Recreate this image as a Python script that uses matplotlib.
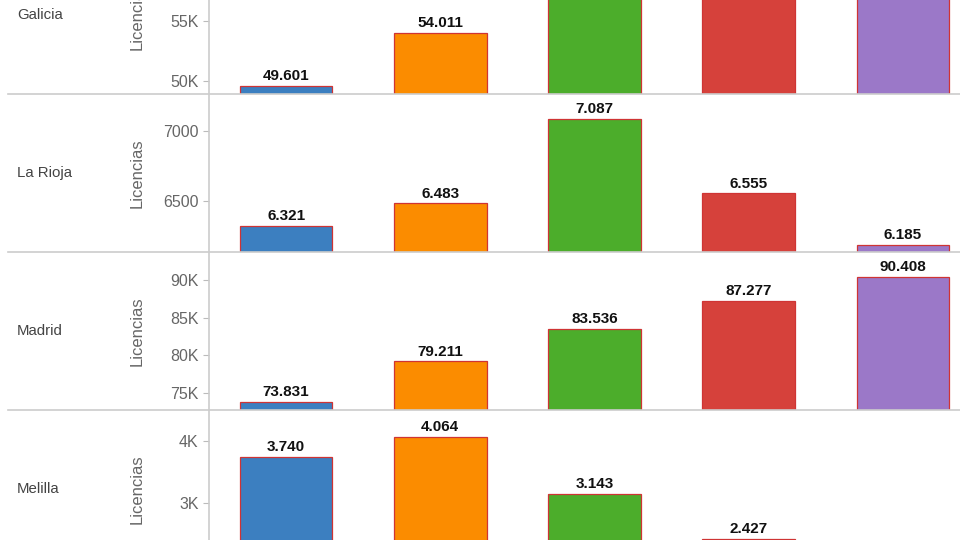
import matplotlib
matplotlib.use("Agg")
import matplotlib.pyplot as plt
from matplotlib.lines import Line2D
from matplotlib.ticker import FuncFormatter

plt.rcParams["font.family"] = ["Liberation Sans", "DejaVu Sans"]

# categories (the x labels sit below the visible crop)
CATEGORIES = ["2012", "2013", "2014", "2015", "2016"]
COLORS = ["#3c7fc0", "#fb8c00", "#4cad2b", "#d6413b", "#9b78c8"]
EDGE = "#cf3434"

REGIONS = ["Galicia", "La Rioja", "Madrid", "Melilla"]
# Galicia: last three bars run past the top of the crop (estimated)
GALICIA = [49601, 54011, 58200, 59100, 60300]
LA_RIOJA = [6321, 6483, 7087, 6555, 6185]
MADRID = [73831, 79211, 83536, 87277, 90408]
# Melilla: purple bar falls below the crop (estimated)
MELILLA = [3740, 4064, 3143, 2427, 2010]

VALUES = [GALICIA, LA_RIOJA, MADRID, MELILLA]
YLIMS = [(48917, 62083), (6136, 7264), (72744, 93716), (1952, 4500)]
YTICKS = [[50000, 55000], [6500, 7000], [75000, 80000, 85000, 90000],
          [3000, 4000]]
K_FORMAT = [True, False, True, True]

W, H = 960, 540
fig = plt.figure(figsize=(W / 100, H / 100), dpi=100)

# panel geometry in pixels (top of each row, row height)
row_tops = [-64, 94, 252, 410]
row_h = 158
ax_left, ax_right = 209, 980


def fmt_k(v, _):
    return f"{v / 1000:.0f}K"


def fmt_plain(v, _):
    return f"{v:.0f}"


for r, region in enumerate(REGIONS):
    top = row_tops[r]
    ax = fig.add_axes([ax_left / W, (H - top - row_h) / H,
                       (ax_right - ax_left) / W, row_h / H])
    vals = VALUES[r]
    ax.bar(range(len(CATEGORIES)), vals, width=0.6, color=COLORS,
           edgecolor=EDGE, linewidth=0.9)
    ax.set_xlim(-0.5, len(CATEGORIES) - 0.5)
    ax.set_ylim(*YLIMS[r])
    for i, v in enumerate(vals):
        # only label bars whose top lies inside the visible crop
        _, py = ax.transData.transform((i, v))
        if py < 0 or py > H - 20:
            continue
        ax.annotate(f"{v:,}".replace(",", "."), (i, v), xytext=(0, 2),
                    textcoords="offset points", ha="center", va="bottom",
                    fontsize=11, fontweight="bold", color="#111111")
    ax.set_yticks(YTICKS[r])
    ax.yaxis.set_major_formatter(FuncFormatter(fmt_k if K_FORMAT[r] else fmt_plain))
    ax.set_xticks([])
    ax.tick_params(axis="y", colors="#bbbbbb", labelcolor="#666666",
                   length=4.5, width=0.8, pad=3, labelsize=11.5)
    for s in ["top", "right", "bottom", "left"]:
        ax.spines[s].set_visible(False)
    ax.set_ylabel("Licencias", fontsize=12, color="#666666")
    ax.yaxis.set_label_coords((145 - ax_left) / (ax_right - ax_left), 0.5)

    fig.text(17 / W, 1 - (top + row_h / 2) / H, region, fontsize=10.8,
             color="#444444", ha="left", va="center")

# row separators and the vertical axis line
for y in [94, 252, 410]:
    fig.add_artist(Line2D([8 / W, 1], [1 - y / H, 1 - y / H],
                          color="#cccccc", lw=1.2))
fig.add_artist(Line2D([ax_left / W, ax_left / W], [0, 1], color="#cccccc", lw=1.2))

fig.savefig("out.png", dpi=100)
